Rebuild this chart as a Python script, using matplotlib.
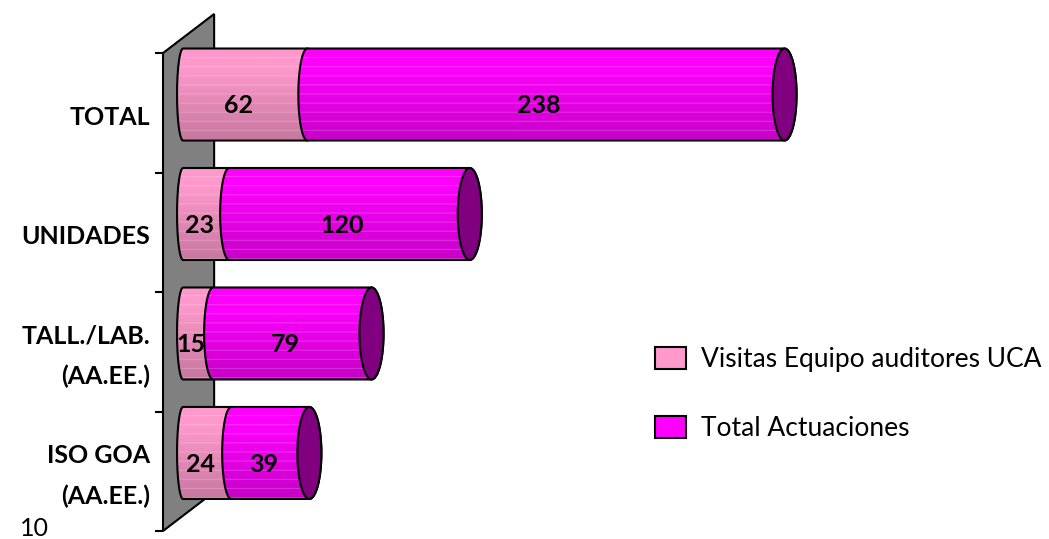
import matplotlib
matplotlib.use('Agg')
import matplotlib.pyplot as plt
import matplotlib.colors as mcolors
import numpy as np
from matplotlib.patches import Polygon, Ellipse, Patch

categories = ['TOTAL', 'UNIDADES', 'TALL./LAB.\n(AA.EE.)', 'ISO GOA\n(AA.EE.)']
visitas = [62, 23, 15, 24]
actuaciones = [238, 120, 79, 39]
series_names = ['Visitas Equipo auditores UCA', 'Total Actuaciones']
corner_label = '10'

pink = '#ff99cc'
magenta = '#ff00ff'
cap_color = '#800080'
wall_color = '#808080'

plt.rcParams['font.family'] = ['Lato', 'DejaVu Sans']

fig = plt.figure(figsize=(10.49, 5.39), dpi=100)
ax = fig.add_axes([0, 0, 1, 1])
ax.set_axis_off()

bar_h = 0.77
slot0 = -0.347   # first category boundary


def gradient(color, n=92):
    base = np.array(mcolors.to_rgb(color))
    dark = base * 0.78
    t = np.linspace(0, 1, n)
    k = np.clip((t - 0.2) / 0.8, 0, 1)[:, None]
    rows = base * (1 - k) + dark * k
    rows[::9] = rows[::9] * 0.8 + 0.2
    return rows[:, None, :].repeat(2, axis=1)


def half_ellipse(x, y, w, start, stop, n=30):
    th = np.radians(np.linspace(start, stop, n))
    return np.column_stack([x + w * np.cos(th), y - bar_h / 2 * np.sin(th)])


def cylinder_piece(a, b, y, color, last, wl, z):
    wr = 6.0
    left = half_ellipse(a, y, wl, 90, 270)
    if last:
        right = half_ellipse(b, y, wr, 270, 450)
    else:
        right = np.array([[b, y + bar_h / 2], [b, y - bar_h / 2]])
    verts = np.vstack([left, right])
    poly = Polygon(verts, closed=True, facecolor='none', edgecolor='black',
                   lw=1.5, zorder=z + 0.1)
    ax.add_patch(poly)
    im = ax.imshow(gradient(color), extent=[a - wl, b + wr, y + bar_h / 2, y - bar_h / 2],
                   aspect='auto', interpolation='bilinear', zorder=z)
    im.set_clip_path(poly)
    if last:
        ax.add_patch(Ellipse((b, y), 2 * wr, bar_h, facecolor=cap_color,
                             edgecolor='black', lw=1.5, zorder=z + 0.2))


# grey back wall
n = len(categories)
wall = Polygon([(-10, slot0), (15.5, slot0 - 0.327), (15.5, slot0 + n - 0.327), (-10, slot0 + n)],
               closed=True, facecolor=wall_color, edgecolor='black', lw=1.5, zorder=1)
ax.add_patch(wall)
ax.hlines(slot0 + np.arange(n + 1), -14, -10, color='black', lw=1.5, zorder=1)

for i, (v1, v2) in enumerate(zip(visitas, actuaciones)):
    cylinder_piece(0, v1, i, pink, False, 3.0, 3)
    cylinder_piece(v1, v1 + v2, i, magenta, True, 4.5, 4)
    for val, mid in [(v1, v1 / 2), (v2, v1 + v2 / 2)]:
        ax.annotate(str(val), xy=(mid, i), xytext=(-5, -8), textcoords='offset points',
                    ha='center', va='center', fontsize=18, fontweight='bold', zorder=6)
    ax.text(-16.5, i + 0.19, categories[i], ha='right', va='center', fontsize=18,
            fontweight='bold', linespacing=1.9)

ax.text(-81.3, 3.63, corner_label, ha='left', va='center', fontsize=18)

handles = [Patch(facecolor=pink, edgecolor='black', lw=1.5),
           Patch(facecolor=magenta, edgecolor='black', lw=1.5)]
ax.legend(handles, series_names, loc='upper left', bbox_to_anchor=(0.624, 0.356),
          frameon=False, fontsize=19, handlelength=1.2, handleheight=0.9,
          labelspacing=1.65, handletextpad=0.55, borderaxespad=0, borderpad=0)

ax.set_xlim(-91.3, 431.9)
ax.set_ylim(3.72, -0.791)

fig.savefig('out.png', dpi=100)
